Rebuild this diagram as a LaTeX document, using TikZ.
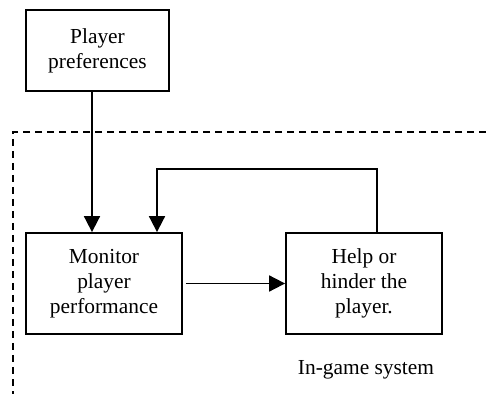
\documentclass[tikz,border=0pt]{standalone}
\usepackage{fontspec}
\setmainfont{Liberation Serif}
\usetikzlibrary{arrows.meta}

\tikzset{
  blockbox/.style={draw, line width=0.9pt, align=center, inner sep=2pt,
    font=\fontsize{10.7}{12.5}\selectfont},
  flow/.style={line width=0.9pt, ->},
  frameline/.style={line width=0.9pt, dash pattern=on 3.5pt off 2.5pt}
}

\begin{document}
\begin{tikzpicture}[x=0.5pt, y=-0.5pt, >={Triangle[length=8pt,width=8pt]}]
		\useasboundingbox (0,0) rectangle (486,394);
		%Riquadro sistema
		\draw [frameline] (486,132) -- (13,132) -- (13,394);
		%Blocchi
		\node [blockbox, minimum width=71.5pt, minimum height=40.5pt] (pref) at (97.5,50.5) {Player\\preferences};
		\node [blockbox, minimum width=78pt, minimum height=50.5pt] (mon) at (104,283.5) {Monitor\\player\\performance};
		\node [blockbox, minimum width=78pt, minimum height=50.5pt] (help) at (364,283.5) {Help or\\hinder the\\player.};
		\node [font=\fontsize{10.7}{12.5}\selectfont] (sys) at (366,370) {In-game system};
		%Frecce
		\draw [flow] ([xshift=-2.75pt]pref.south) -- ([xshift=-2.75pt]pref.south |- mon.north);
		\draw [flow] ([xshift=1.5pt]mon.east) -- (help.west);
		\coordinate (loop) at (157,169);
		\draw [flow] ([xshift=6.5pt]help.north) |- (loop) -- (loop |- mon.north);
	\end{tikzpicture}
\end{document}
